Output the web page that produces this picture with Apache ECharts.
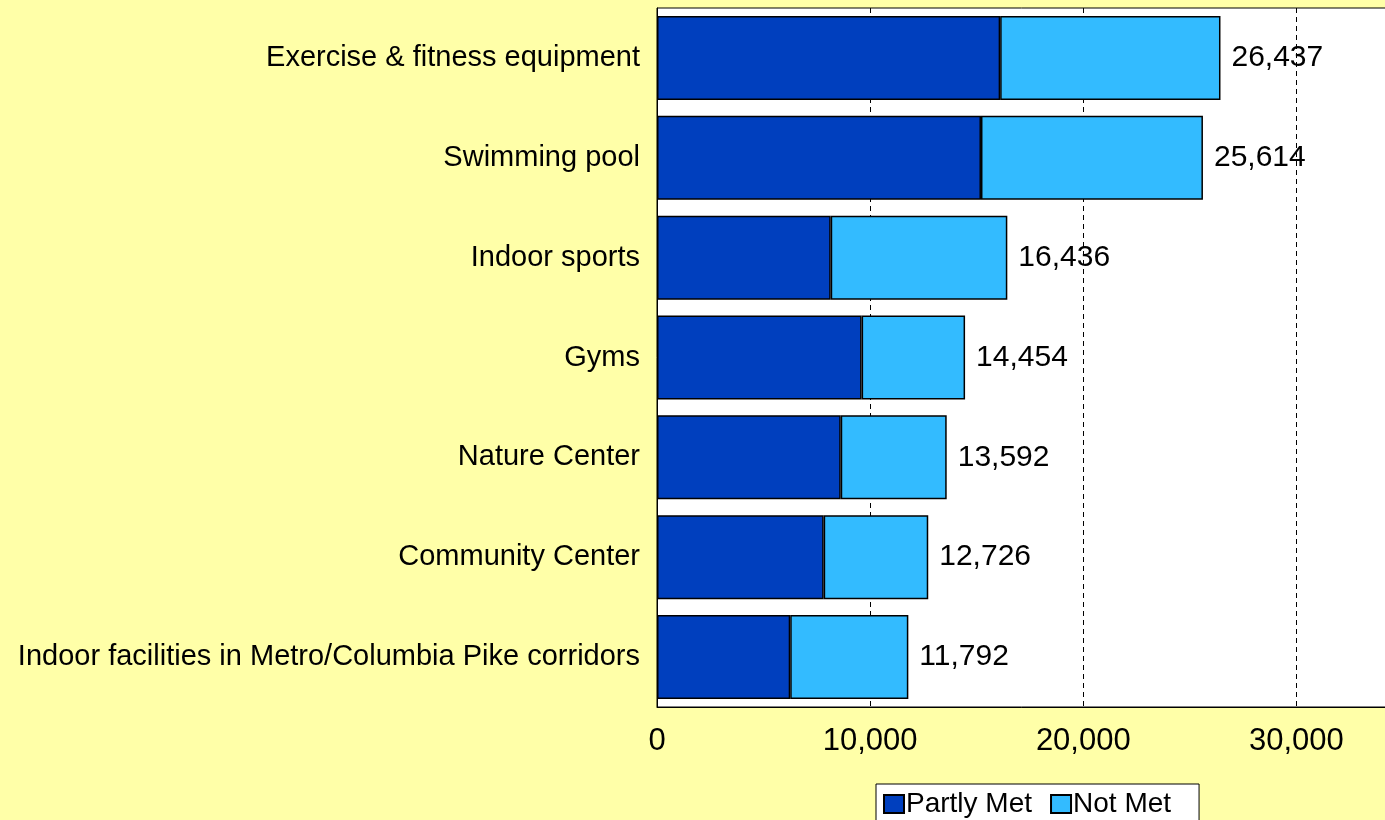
<!DOCTYPE html>
<html><head><meta charset="utf-8">
<script src="https://cdn.jsdelivr.net/npm/echarts@6/dist/echarts.min.js"></script>
<style>html,body{margin:0;padding:0;background:#FFFFA8;}#c{width:1385px;height:820px;}</style>
</head><body><div id="c"></div>
<script>
const categories = ["Exercise & fitness equipment","Swimming pool","Indoor sports","Gyms","Nature Center","Community Center","Indoor facilities in Metro/Columbia Pike corridors"];
const totals = [26437, 25614, 16436, 14454, 13592, 12726, 11792];
const partlyMet = [16100, 15200, 8150, 9600, 8620, 7820, 6250];
const notMet = [10337, 10414, 8286, 4854, 4972, 4906, 5542];
const xTicks = [0, 10000, 20000, 30000];

const chart = echarts.init(document.getElementById('c'));
const font = "'Liberation Sans', Arial, sans-serif";
chart.setOption({
  backgroundColor: '#FFFFA8',
  animation: false,
  textStyle: { fontFamily: font },
  grid: { left: 657, top: 8, height: 699, width: 746, outerBoundsMode: 'none', containLabel: false,
    backgroundColor: '#fff', show: true, borderColor: '#000', borderWidth: 1 },
  xAxis: {
    type: 'value', min: 0, max: 35000, interval: 10000,
    axisLine: { show: true, lineStyle: { color: '#000', width: 1 } },
    axisTick: { show: false },
    axisLabel: { color: '#000', fontSize: 31, margin: 19, fontFamily: font,
      formatter: v => xTicks.includes(v) ? v.toLocaleString('en-US') : '' },
    splitLine: { show: true, lineStyle: { color: '#000', type: [5, 4], width: 1 } }
  },
  yAxis: {
    type: 'category', data: categories, inverse: true,
    axisLine: { show: true, lineStyle: { color: '#000' } },
    axisTick: { show: false },
    axisLabel: { color: '#000', fontSize: 29, margin: 17, fontFamily: font, padding: [4, 0, 0, 0] }
  },
  legend: {
    left: 876, top: 784, backgroundColor: '#fff', borderColor: '#000', borderWidth: 1,
    padding: [6, 28, 10, 7], itemGap: 18, itemWidth: 20, itemHeight: 18, icon: 'rect',
    textStyle: { fontSize: 28, color: '#000', padding: [0, 0, 0, -3], fontFamily: font },
    data: ['Partly Met', 'Not Met']
  },
  series: [
    { name: 'Partly Met', type: 'bar', stack: 't', data: partlyMet, barWidth: 84,
      itemStyle: { color: '#003FBE', borderColor: '#000', borderWidth: 1.5 } },
    { name: 'Not Met', type: 'bar', stack: 't', data: notMet, barWidth: 84,
      itemStyle: { color: '#33BBFF', borderColor: '#000', borderWidth: 1.5 },
      label: { show: true, position: 'right', distance: 11, color: '#000', fontSize: 30, fontFamily: font,
        padding: [4, 0, 0, 0],
        formatter: p => totals[p.dataIndex].toLocaleString('en-US') } }
  ]
});
</script></body></html>
